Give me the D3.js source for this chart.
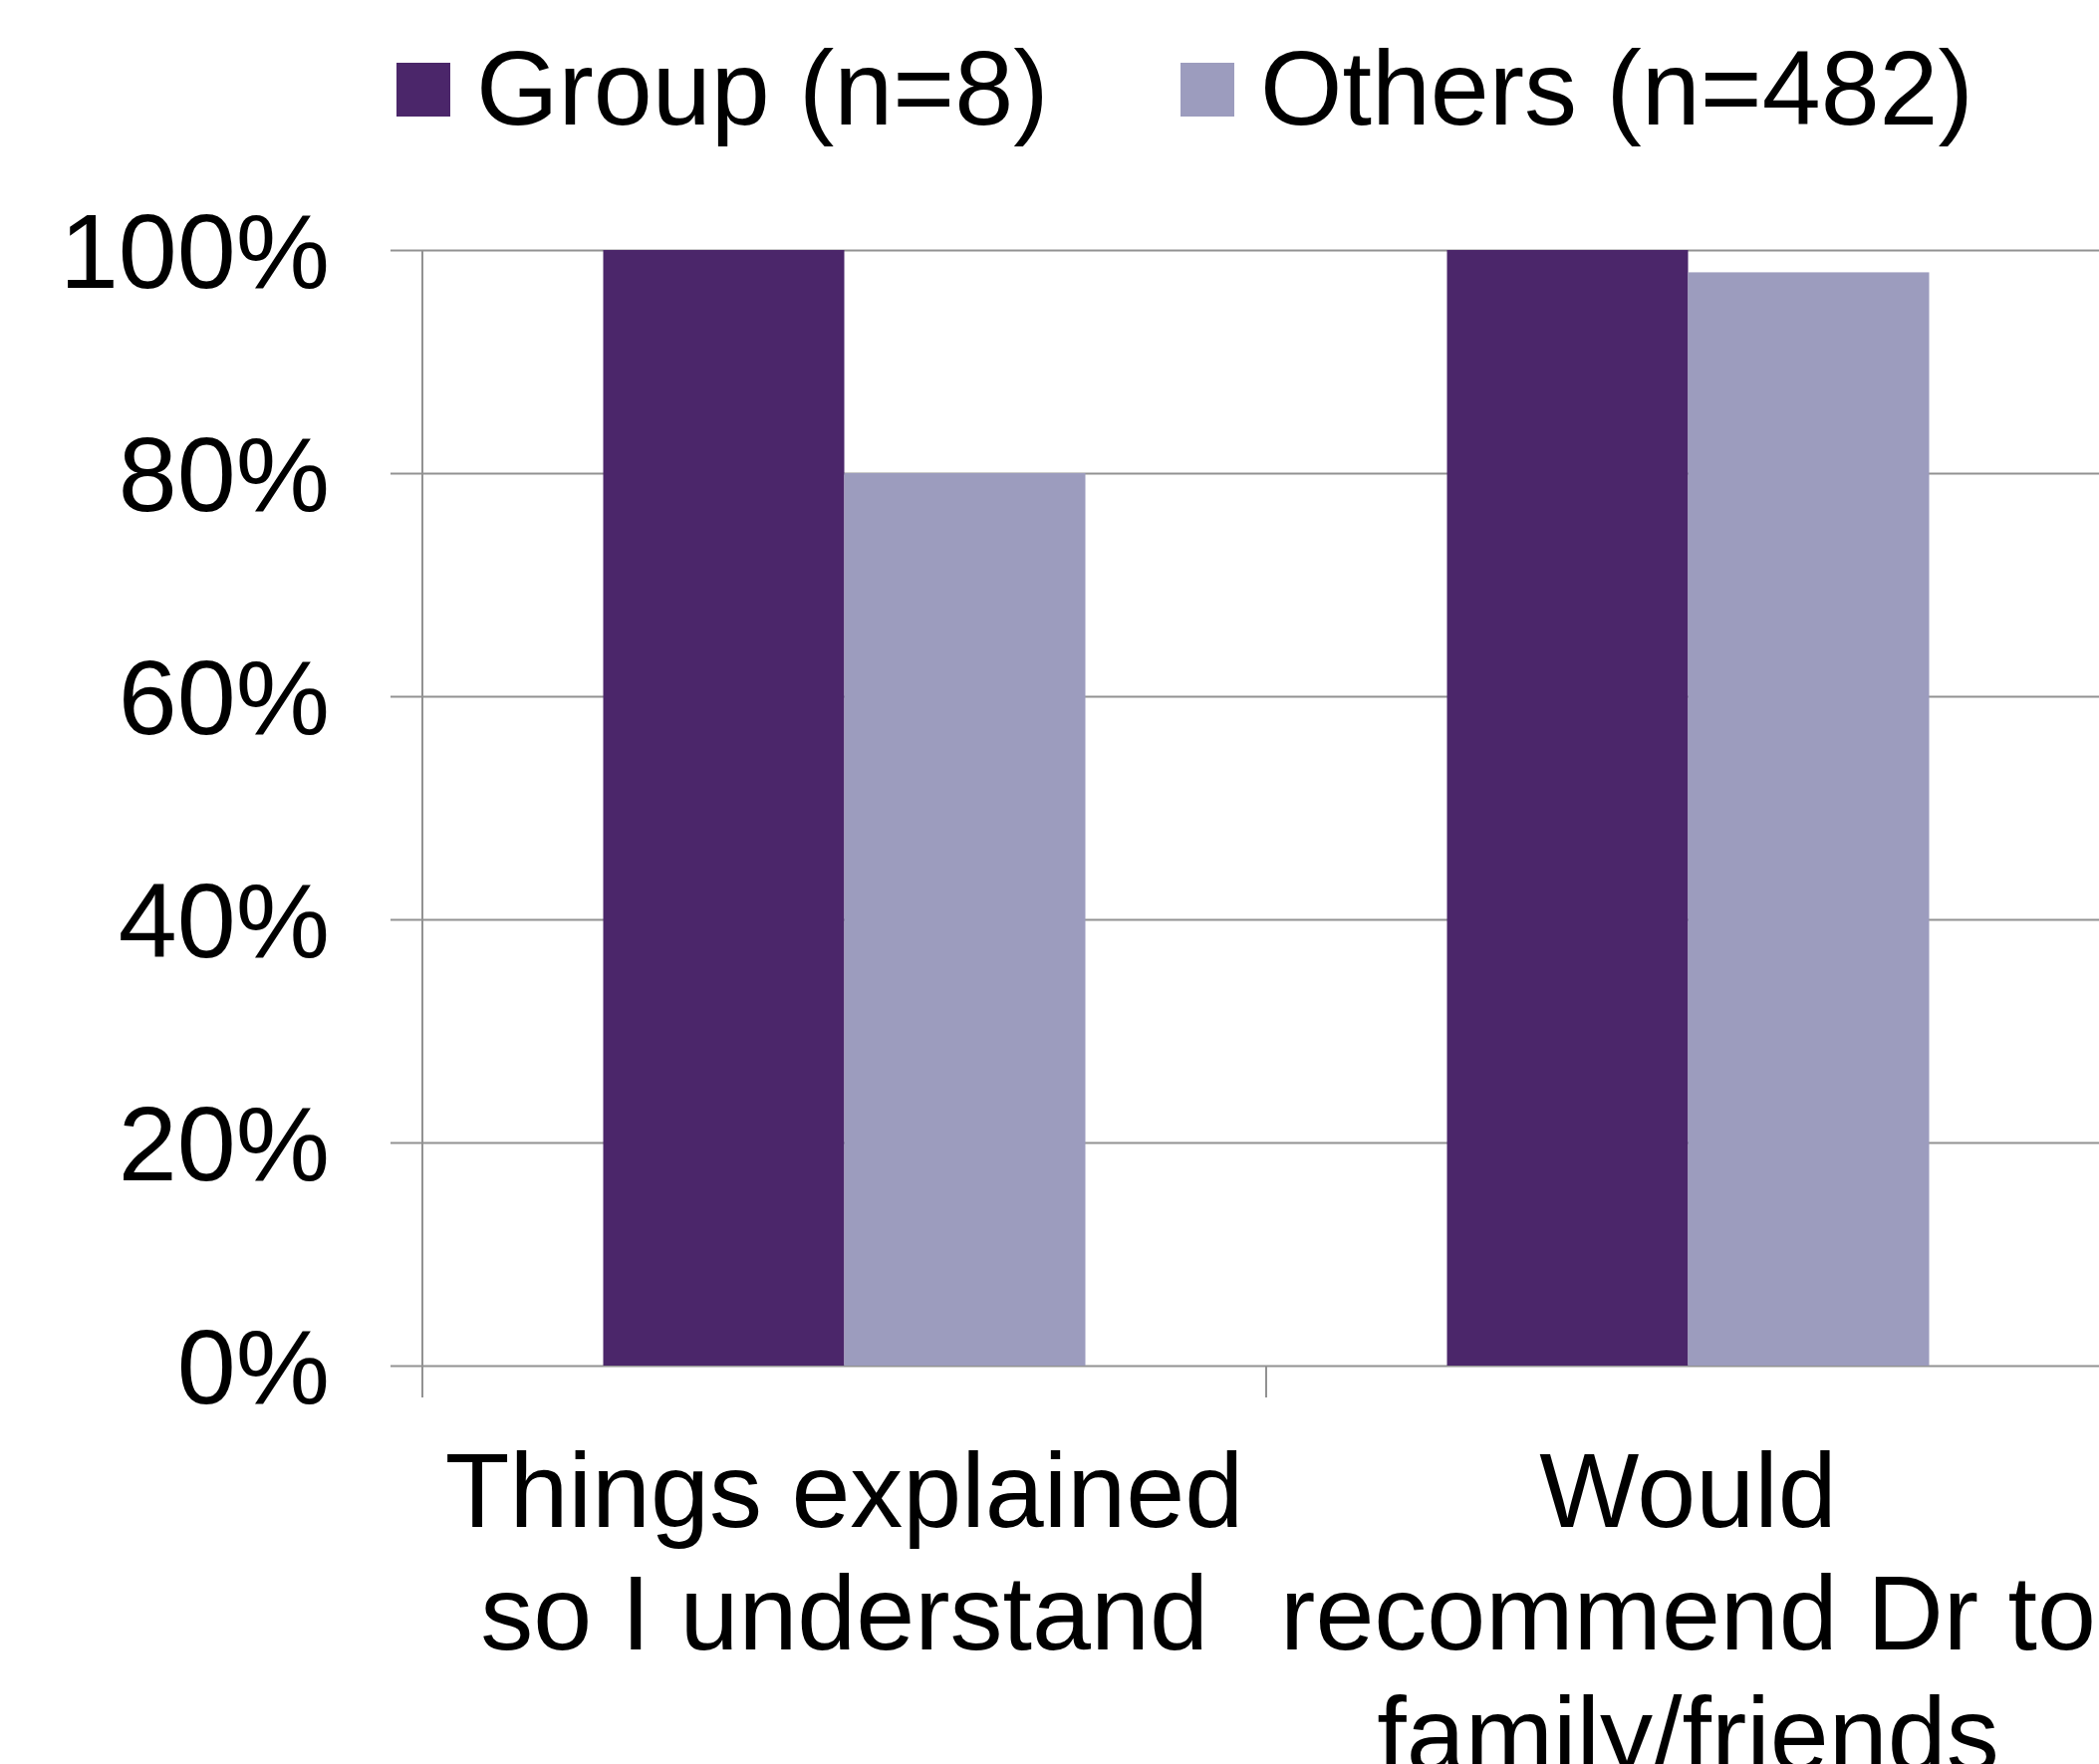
<!DOCTYPE html>
<html>
<head>
<meta charset="utf-8">
<script src="https://cdn.jsdelivr.net/npm/d3@7"></script>
<style>
  body { margin: 0; background: #fff; overflow: hidden; }
  svg { display: block; font-family: Arial, "Liberation Sans", sans-serif; }
</style>
</head>
<body>
<svg id="chart"></svg>
<script>
// data
const categories = ["Things explained so I understand", "Would recommend Dr to family/friends"];
const categoryLines = [["Things explained", "so I understand"], ["Would", "recommend Dr to", "family/friends"]];
const seriesNames = ["Group (n=8)", "Others (n=482)"];
const groupValues = [1.00, 1.00];
const othersValues = [0.80, 0.98];
const yTicks = [0, 0.2, 0.4, 0.6, 0.8, 1.0];

const colors = ["#4b266a", "#9c9cbe"];
const width = 2107, height = 1771;
const fontSize = 106;

const svg = d3.select("#chart").attr("width", width).attr("height", height);

// plot area
const plotLeft = 424, plotTop = 251, plotBottom = 1371;
const bandW = 847;

const x = d3.scaleBand()
    .domain(categories)
    .range([plotLeft, plotLeft + bandW * categories.length])
    .padding(0);

const y = d3.scaleLinear()
    .domain([0, 1])
    .range([plotBottom, plotTop]);

// excel style gap width 150%
const barW = x.bandwidth() / (seriesNames.length + 1.5);
const x1 = d3.scaleBand()
    .domain(seriesNames)
    .range([barW * 0.75, x.bandwidth() - barW * 0.75])
    .padding(0);

const rows = categories.map((c, i) => ({
  cat: c,
  vals: [groupValues[i], othersValues[i]]
}));

// gridlines
const grid = svg.append("g")
    .attr("transform", `translate(${plotLeft},0)`)
    .call(d3.axisRight(y).tickValues(yTicks).tickSize(width - plotLeft).tickFormat(""));
grid.select(".domain").remove();
grid.selectAll("line").attr("stroke", "#929292").attr("stroke-width", 2);

// bars
svg.append("g").selectAll("g.cat")
  .data(rows)
  .join("g")
    .attr("class", "cat")
    .attr("transform", d => `translate(${x(d.cat)},0)`)
  .selectAll("rect")
  .data(d => d.vals.map((v, j) => ({ name: seriesNames[j], v: v, j: j })))
  .join("rect")
    .attr("x", d => x1(d.name))
    .attr("width", x1.bandwidth())
    .attr("y", d => y(d.v))
    .attr("height", d => y(0) - y(d.v))
    .attr("fill", d => colors[d.j]);

// y axis
const yAxis = svg.append("g")
    .attr("transform", `translate(${plotLeft},0)`)
    .call(d3.axisLeft(y).tickValues(yTicks).tickSize(32).tickPadding(61).tickFormat(d3.format(".0%")));
yAxis.select(".domain").remove();
yAxis.selectAll("line").attr("stroke", "#929292").attr("stroke-width", 2);
yAxis.selectAll("text")
    .attr("font-size", fontSize)
    .attr("font-family", "Arial, 'Liberation Sans', sans-serif")
    .attr("fill", "#000")
    .attr("dy", "0.35em");

// vertical axis line
svg.append("line")
    .attr("x1", plotLeft).attr("x2", plotLeft)
    .attr("y1", plotTop).attr("y2", plotBottom + 32)
    .attr("stroke", "#929292").attr("stroke-width", 2);

// category tick marks
const catTicks = x.domain().map(c => x(c) + x.bandwidth());
svg.append("g").selectAll("line")
  .data(catTicks)
  .join("line")
    .attr("x1", d => d).attr("x2", d => d)
    .attr("y1", plotBottom).attr("y2", plotBottom + 32)
    .attr("stroke", "#929292").attr("stroke-width", 2);

// category labels
const lab = svg.append("g").selectAll("text")
  .data(categories)
  .join("text")
    .attr("text-anchor", "middle")
    .attr("font-size", fontSize)
    .attr("fill", "#000")
    .attr("x", d => x(d) + x.bandwidth() / 2)
    .attr("y", plotBottom + 162);
lab.selectAll("tspan")
  .data((d, i) => categoryLines[i])
  .join("tspan")
    .attr("x", function() { return d3.select(this.parentNode).attr("x"); })
    .attr("dy", (d, i) => i === 0 ? 0 : 122.6)
    .text(d => d);

// legend
const legendX = [398, 1185];
const legend = svg.append("g").selectAll("g")
  .data(seriesNames)
  .join("g")
    .attr("transform", (d, i) => `translate(${legendX[i]},63)`);
legend.append("rect")
    .attr("width", 54).attr("height", 54)
    .attr("fill", (d, i) => colors[i]);
legend.append("text")
    .attr("x", 80)
    .attr("y", 62)
    .attr("font-size", fontSize)
    .attr("fill", "#000")
    .text(d => d);
</script>
</body>
</html>
